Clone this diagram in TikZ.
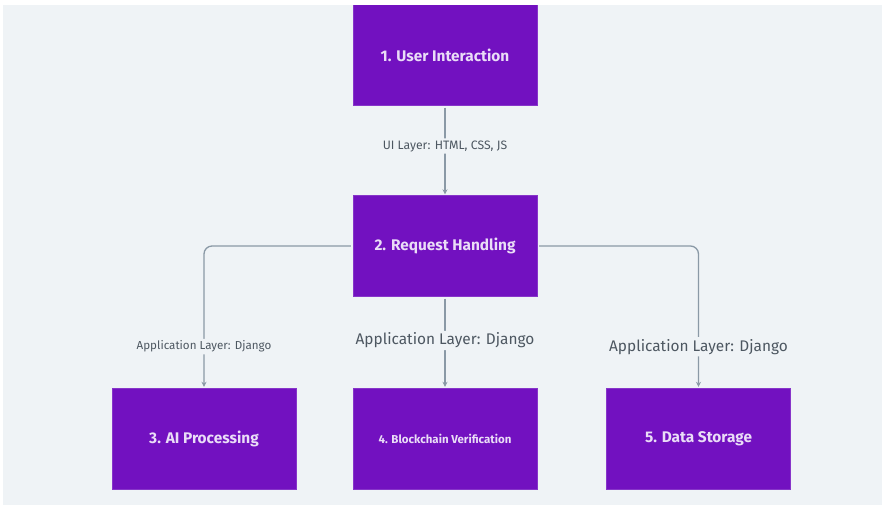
\documentclass[tikz,border=0pt]{standalone}
\usepackage{fontspec}
\setmainfont{Fira Sans}
\usetikzlibrary{arrows.meta}

\definecolor{bggray}{HTML}{EFF3F6}
\definecolor{boxpurple}{HTML}{7211C0}
\definecolor{boxtext}{HTML}{EADDF7}
\definecolor{linegray}{HTML}{8A99A6}
\definecolor{labelgray}{HTML}{4D5761}

\tikzset{
  stage/.style={fill=boxpurple, draw=boxpurple!85!white, minimum width=184pt,
    minimum height=101pt, inner sep=0pt, text=boxtext,
    font=\bfseries\fontsize{15.4}{17}\selectfont},
  link/.style={draw=linegray, line width=1.3pt, rounded corners=8pt,
    -{Stealth[length=5pt,width=5pt]}, shorten <=2pt, shorten >=1pt},
  tag/.style={fill=bggray, text=labelgray, inner sep=2pt,
    font=\fontsize{11.6}{13}\selectfont},
  bigtag/.style={tag, font=\fontsize{15.4}{17}\selectfont},
}

\begin{document}
\begin{tikzpicture}[x=1pt, y=-1pt]
  % canvas
  \useasboundingbox (0,0) rectangle (882,507);
  \fill[white] (0,0) rectangle (882,507);
  \fill[bggray] (3,5) rectangle (882,505);

  % stages
  \begin{scope}
    \clip (3,5) rectangle (882,505);
    \node[stage] (user) at (445,55) {1. User Interaction};
  \end{scope}
  \node[stage] (request) at (445,246) {2. Request Handling};
  \node[stage] (ai) at (204,438.5) {3. AI Processing};
  \node[stage, font=\bfseries\fontsize{11.5}{13}\selectfont] (chain) at (445,438.5) {4. Blockchain Verification};
  \node[stage] (store) at (698.5,438.5) {5. Data Storage};

  % links
  \draw[link] (user) -- node[tag, pos=0.45, font=\fontsize{12.2}{14}\selectfont] {UI Layer: HTML, CSS, JS} (request);
  \draw[link] (request.west) -| node[tag, pos=0.855] {Application Layer: Django} (ai.north);
  \draw[link] (request) -- node[bigtag, pos=0.48] {Application Layer: Django} (chain);
  \draw[link] (request.east) -| node[bigtag, pos=0.855] {Application Layer: Django} (store.north);
\end{tikzpicture}
\end{document}
